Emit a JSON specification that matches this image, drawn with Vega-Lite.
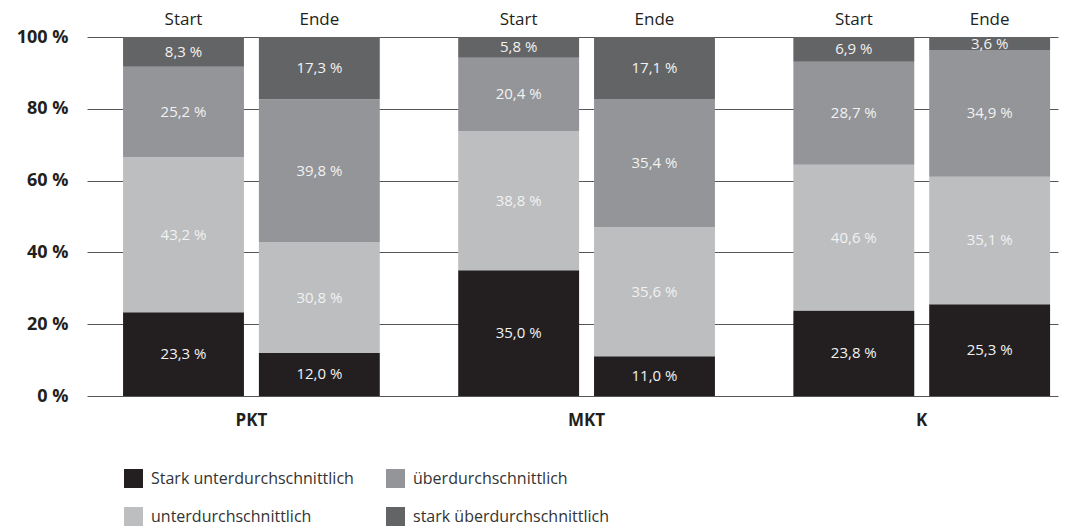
{
  "$schema": "https://vega.github.io/schema/vega-lite/v6.json",
  "autosize": "none",
  "width": 971,
  "height": 359,
  "padding": {"left": 87, "top": 37, "right": 12, "bottom": 133},
  "background": "white",
  "config": {
    "font": "Open Sans",
    "view": {"stroke": null},
    "locale": {"number": {"decimal": ",", "thousands": ".", "grouping": [3], "currency": ["", " €"], "percent": " %"}}
  },
  "data": {
    "values": [
      {"gruppe": "PKT", "zeit": "Start", "kategorie": "Stark unterdurchschnittlich", "rang": 1, "wert": 0.233},
      {"gruppe": "PKT", "zeit": "Start", "kategorie": "unterdurchschnittlich", "rang": 2, "wert": 0.432},
      {"gruppe": "PKT", "zeit": "Start", "kategorie": "überdurchschnittlich", "rang": 3, "wert": 0.252},
      {"gruppe": "PKT", "zeit": "Start", "kategorie": "stark überdurchschnittlich", "rang": 4, "wert": 0.083},
      {"gruppe": "PKT", "zeit": "Ende", "kategorie": "Stark unterdurchschnittlich", "rang": 1, "wert": 0.120},
      {"gruppe": "PKT", "zeit": "Ende", "kategorie": "unterdurchschnittlich", "rang": 2, "wert": 0.308},
      {"gruppe": "PKT", "zeit": "Ende", "kategorie": "überdurchschnittlich", "rang": 3, "wert": 0.398},
      {"gruppe": "PKT", "zeit": "Ende", "kategorie": "stark überdurchschnittlich", "rang": 4, "wert": 0.173},
      {"gruppe": "MKT", "zeit": "Start", "kategorie": "Stark unterdurchschnittlich", "rang": 1, "wert": 0.350},
      {"gruppe": "MKT", "zeit": "Start", "kategorie": "unterdurchschnittlich", "rang": 2, "wert": 0.388},
      {"gruppe": "MKT", "zeit": "Start", "kategorie": "überdurchschnittlich", "rang": 3, "wert": 0.204},
      {"gruppe": "MKT", "zeit": "Start", "kategorie": "stark überdurchschnittlich", "rang": 4, "wert": 0.058},
      {"gruppe": "MKT", "zeit": "Ende", "kategorie": "Stark unterdurchschnittlich", "rang": 1, "wert": 0.110},
      {"gruppe": "MKT", "zeit": "Ende", "kategorie": "unterdurchschnittlich", "rang": 2, "wert": 0.356},
      {"gruppe": "MKT", "zeit": "Ende", "kategorie": "überdurchschnittlich", "rang": 3, "wert": 0.354},
      {"gruppe": "MKT", "zeit": "Ende", "kategorie": "stark überdurchschnittlich", "rang": 4, "wert": 0.171},
      {"gruppe": "K", "zeit": "Start", "kategorie": "Stark unterdurchschnittlich", "rang": 1, "wert": 0.238},
      {"gruppe": "K", "zeit": "Start", "kategorie": "unterdurchschnittlich", "rang": 2, "wert": 0.406},
      {"gruppe": "K", "zeit": "Start", "kategorie": "überdurchschnittlich", "rang": 3, "wert": 0.287},
      {"gruppe": "K", "zeit": "Start", "kategorie": "stark überdurchschnittlich", "rang": 4, "wert": 0.069},
      {"gruppe": "K", "zeit": "Ende", "kategorie": "Stark unterdurchschnittlich", "rang": 1, "wert": 0.253},
      {"gruppe": "K", "zeit": "Ende", "kategorie": "unterdurchschnittlich", "rang": 2, "wert": 0.351},
      {"gruppe": "K", "zeit": "Ende", "kategorie": "überdurchschnittlich", "rang": 3, "wert": 0.349},
      {"gruppe": "K", "zeit": "Ende", "kategorie": "stark überdurchschnittlich", "rang": 4, "wert": 0.036}
    ]
  },
  "encoding": {
    "x": {
      "field": "gruppe", "type": "nominal", "sort": ["PKT", "MKT", "K"],
      "scale": {"paddingInner": 0.234, "paddingOuter": 0.0656, "align": 0.82},
      "axis": {"title": null, "orient": "bottom", "domain": false, "ticks": false, "labelAngle": 0,
        "labelFont": "Open Sans", "labelFontWeight": "bold", "labelFontSize": 17, "labelColor": "#231f20", "labelPadding": 16}
    },
    "xOffset": {"field": "zeit", "type": "nominal", "sort": ["Start", "Ende"], "scale": {"paddingInner": 0.11, "paddingOuter": 0}}
  },
  "layer": [
    {
      "mark": {"type": "bar"},
      "encoding": {
        "y": {
          "field": "wert", "type": "quantitative", "stack": "normalize",
          "scale": {"domain": [0, 1], "nice": false},
          "axis": {"title": null, "values": [0, 0.2, 0.4, 0.6, 0.8, 1], "format": ".0%", "domain": false, "ticks": false,
            "grid": true, "gridColor": "#555555", "gridWidth": 1, "labelPadding": 19,
            "labelFont": "Open Sans", "labelFontWeight": "bold", "labelFontSize": 18, "labelColor": "#231f20"}
        },
        "color": {
          "field": "kategorie", "type": "nominal",
          "scale": {
            "domain": ["Stark unterdurchschnittlich", "unterdurchschnittlich", "überdurchschnittlich", "stark überdurchschnittlich"],
            "range": ["#231f20", "#bcbec0", "#939598", "#636466"]
          },
          "legend": {
            "title": null, "orient": "none", "legendX": 37, "legendY": 432, "columns": 2, "columnPadding": 32, "rowPadding": 19,
            "symbolType": "square", "symbolSize": 361, "symbolStrokeWidth": 0, "symbolOpacity": 1,
            "labelFont": "Open Sans", "labelFontSize": 16, "labelColor": "#333333", "labelOffset": 8, "labelLimit": 400
          }
        },
        "order": {"field": "rang", "type": "quantitative"}
      }
    },
    {
      "mark": {"type": "text", "fill": "#f2f2f2", "fontSize": 15, "baseline": "middle", "align": "center"},
      "encoding": {
        "y": {"field": "wert", "type": "quantitative", "stack": "normalize", "bandPosition": 0.5},
        "detail": {"field": "kategorie"},
        "order": {"field": "rang", "type": "quantitative"},
        "text": {"field": "wert", "type": "quantitative", "format": ".1%"}
      }
    },
    {
      "transform": [{"filter": {"field": "rang", "equal": 1}}],
      "mark": {"type": "text", "fill": "#231f20", "fontSize": 17, "baseline": "middle", "align": "center", "dy": -17},
      "encoding": {
        "y": {"datum": 1, "type": "quantitative"},
        "text": {"field": "zeit", "type": "nominal"}
      }
    }
  ]
}
